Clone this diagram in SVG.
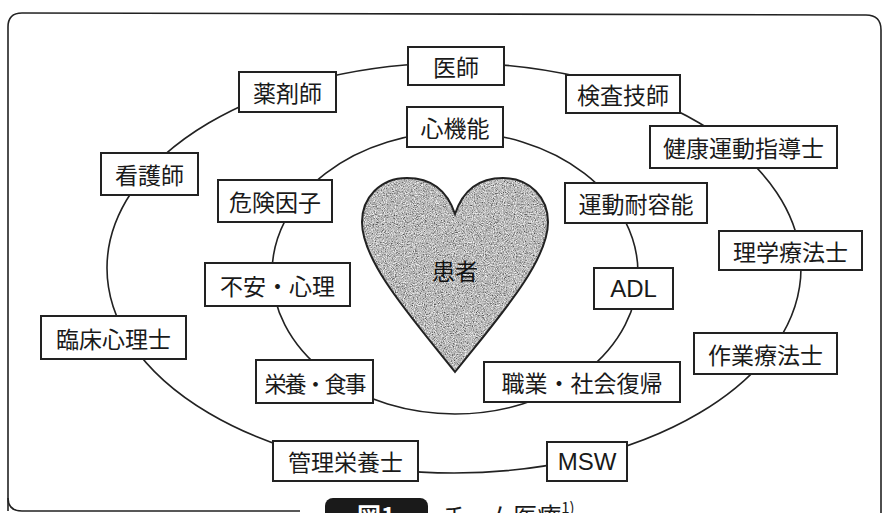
<svg xmlns="http://www.w3.org/2000/svg" width="882" height="513" viewBox="0 0 882 513">
<style>
.box{fill:#fff;stroke:#222;stroke-width:2}
.lbl{font-family:"Noto Sans CJK JP","Noto Sans",sans-serif;font-size:23px;fill:#1a1a1a;text-anchor:middle;dominant-baseline:central}
.lat{font-family:"Liberation Sans",Arial,sans-serif;font-size:24px;fill:#1a1a1a;text-anchor:middle;dominant-baseline:central}
.ring{fill:none;stroke:#222;stroke-width:1.6}
</style>
<defs>
<filter id="speckle" x="0" y="0" width="100%" height="100%">
<feTurbulence type="fractalNoise" baseFrequency="0.9" numOctaves="2" seed="7" result="n"/>
<feColorMatrix in="n" type="matrix" values="0 0 0 0 0  0 0 0 0 0  0 0 0 0 0  3 0 0 0 -1.45" result="a"/>
<feComposite in="a" in2="SourceGraphic" operator="in"/>
</filter>
<filter id="speckleW" x="0" y="0" width="100%" height="100%">
<feTurbulence type="fractalNoise" baseFrequency="0.9" numOctaves="2" seed="21" result="n"/>
<feColorMatrix in="n" type="matrix" values="0 0 0 0 1  0 0 0 0 1  0 0 0 0 1  0 3 0 0 -1.3" result="a"/>
<feComposite in="a" in2="SourceGraphic" operator="in"/>
</filter>
<path id="heartShape" d="M455,214 C447,190 430,178 407,178 C380,178 362,198 362,222 C362,262 412,318 455,372 C498,318 548,262 548,222 C548,198 530,178 503,178 C480,178 463,190 455,214 Z"/>
</defs>
<rect width="882" height="513" fill="#fff"/>
<path d="M8,511 L8,27 Q8,13 22,13 L866,15 Q881,15 881,30 L881,513" fill="none" stroke="#222" stroke-width="1.6"/>
<path d="M8,498 Q8,511 22,511 L300,511" fill="none" stroke="#222" stroke-width="1.6"/>
<g id="connectors">
<ellipse class="ring" cx="454" cy="268" rx="347" ry="205"/>
<ellipse class="ring" cx="455" cy="273" rx="183" ry="141"/>
</g>
<g id="patient">
<use href="#heartShape" fill="#b4b4b4"/>
<use href="#heartShape" fill="#000" filter="url(#speckle)" opacity="0.6"/>
<use href="#heartShape" fill="#fff" filter="url(#speckleW)" opacity="0.85"/>
<use href="#heartShape" fill="none" stroke="#222" stroke-width="2"/>
<text class="lbl" x="455" y="270" style="font-size:23px;fill:#111">患者</text>
</g>
<g id="n-ishi"><rect class="box" x="408" y="47" width="96" height="38"/><text class="lbl" x="456" y="66">医師</text></g>
<g id="n-yakuzaishi"><rect class="box" x="239" y="72" width="97" height="40"/><text class="lbl" x="287.5" y="92">薬剤師</text></g>
<g id="n-kensa"><rect class="box" x="566" y="75" width="114" height="38"/><text class="lbl" x="623" y="94">検査技師</text></g>
<g id="n-shinkino"><rect class="box" x="407" y="107" width="96" height="40"/><text class="lbl" x="455" y="127">心機能</text></g>
<g id="n-kenko"><rect class="box" x="650" y="126" width="187" height="42"/><text class="lbl" x="743.5" y="147">健康運動指導士</text></g>
<g id="n-kango"><rect class="box" x="101" y="153" width="97" height="42"/><text class="lbl" x="149.5" y="174">看護師</text></g>
<g id="n-kiken"><rect class="box" x="218" y="180" width="114" height="42"/><text class="lbl" x="275" y="201">危険因子</text></g>
<g id="n-undo"><rect class="box" x="565" y="183" width="142" height="40"/><text class="lbl" x="636" y="203">運動耐容能</text></g>
<g id="n-rigaku"><rect class="box" x="719" y="231" width="143" height="39"/><text class="lbl" x="790.5" y="250.5">理学療法士</text></g>
<g id="n-fuan"><rect class="box" x="205" y="263" width="145" height="43"/><text class="lbl" x="277.5" y="284.5">不安・心理</text></g>
<g id="n-adl"><rect class="box" x="594" y="268" width="79" height="41"/><text class="lat" x="633.5" y="288.5">ADL</text></g>
<g id="n-rinsho"><rect class="box" x="41" y="316" width="145" height="43"/><text class="lbl" x="113.5" y="337.5">臨床心理士</text></g>
<g id="n-sagyo"><rect class="box" x="694" y="333" width="143" height="41"/><text class="lbl" x="765.5" y="353.5">作業療法士</text></g>
<g id="n-eiyo"><rect class="box" x="256" y="360" width="117" height="43"/><text class="lbl" x="314.5" y="381.5" style="font-size:22px;letter-spacing:-2px">栄養・食事</text></g>
<g id="n-shokugyo"><rect class="box" x="484" y="362" width="196" height="40"/><text class="lbl" x="582" y="382">職業・社会復帰</text></g>
<g id="n-kanri"><rect class="box" x="273" y="441" width="145" height="40"/><text class="lbl" x="345.5" y="461">管理栄養士</text></g>
<g id="n-msw"><rect class="box" x="547" y="442" width="80" height="39"/><text class="lat" x="587" y="461.5">MSW</text></g>
<g id="caption">
<rect x="325" y="498" width="103" height="30" rx="8" fill="#1a1a1a"/>
<text x="376" y="525" font-family="'Noto Sans CJK JP',sans-serif" font-size="24" font-weight="bold" fill="#fff" text-anchor="middle">図1</text>
<text x="442" y="525" font-family="'Noto Sans CJK JP',sans-serif" font-size="24" fill="#1a1a1a">チーム医療<tspan font-size="15" dy="-12">1)</tspan></text>
</g>
</svg>
